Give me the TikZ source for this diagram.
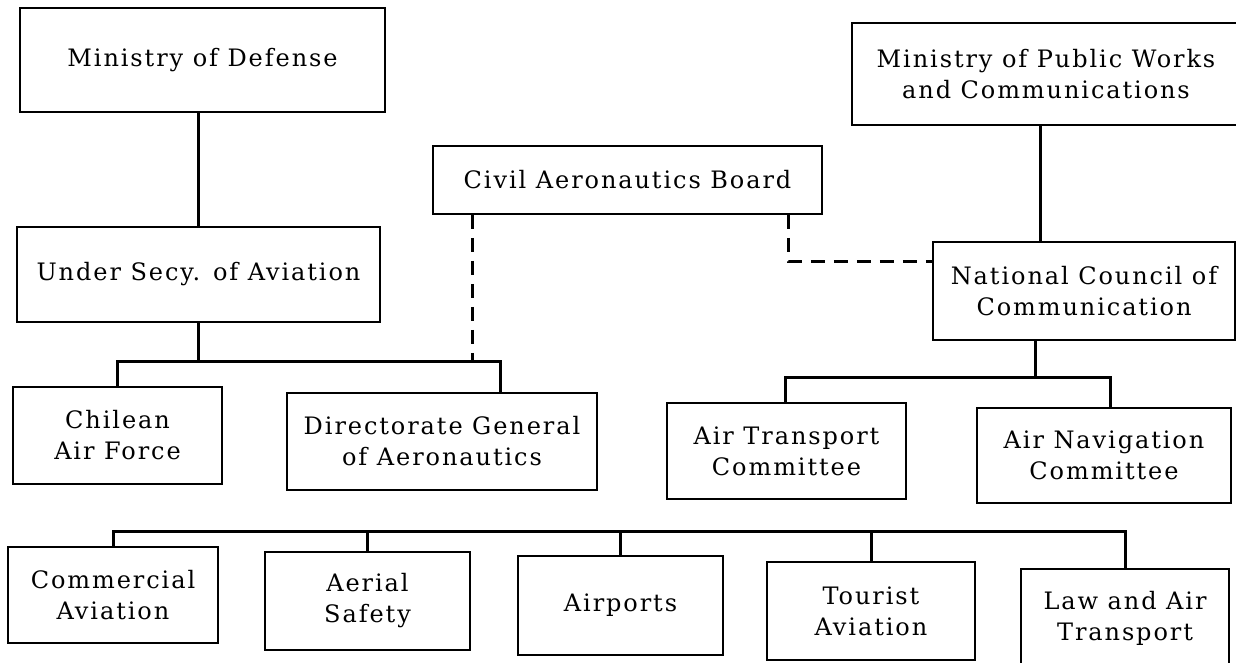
\documentclass[tikz,border=0pt]{standalone}
\usepackage{fontspec}
\setmainfont{DejaVu Serif}[LetterSpace=8]
\begin{document}
\begin{tikzpicture}[x=1pt,y=-1pt,
  box/.style={draw,line width=1.6pt,align=center,inner sep=0pt,font=\fontsize{24}{31}\selectfont},
  conn/.style={line width=3pt},
  dconn/.style={line width=3pt,dash pattern=on 14pt off 9pt}]
\useasboundingbox (0,0) rectangle (1236,662);
% boxes
\node[box,minimum width=365pt,minimum height=104pt] (mod) at (202.5,60) {Ministry of Defense};
\node[box,minimum width=363pt,minimum height=95pt] (usa) at (198.5,274.5) {Under Secy. of Aviation};
\node[box,minimum width=389pt,minimum height=68pt] (cab) at (627.5,180) {Civil Aeronautics Board};
\node[box,minimum width=388pt,minimum height=102pt] (mpw) at (1046,74) {Ministry of Public Works\\and Communications};
\node[box,minimum width=302pt,minimum height=98pt] (ncc) at (1084,291) {National Council of\\Communication};
\node[box,minimum width=209pt,minimum height=97pt] (chi) at (117.5,435.5) {Chilean\\Air Force};
\node[box,minimum width=310pt,minimum height=97pt] (dga) at (442,441.5) {Directorate General\\of Aeronautics};
\node[box,minimum width=239pt,minimum height=96pt] (atc) at (786.5,451) {Air Transport\\Committee};
\node[box,minimum width=254pt,minimum height=95pt] (anc) at (1104,455.5) {Air Navigation\\Committee};
\node[box,minimum width=210pt,minimum height=96pt] (com) at (113,595) {Commercial\\Aviation};
\node[box,minimum width=205pt,minimum height=98pt] (saf) at (367.5,601) {Aerial\\Safety};
\node[box,minimum width=205pt,minimum height=99pt] (apt) at (620.5,605.5) {Airports};
\node[box,minimum width=208pt,minimum height=98pt] (tou) at (871,611) {Tourist\\Aviation};
\node[box,minimum width=208pt,minimum height=98pt] (law) at (1125,618) {Law and Air\\Transport};
% coordinates
\coordinate (b1L) at (117,361);
\coordinate (b1R) at (500,361);
\coordinate (d1) at (472,361);
\coordinate (d2) at (788,261);
\coordinate (m2) at (1040,0);
\coordinate (n2) at (1035,377);
\coordinate (b2L) at (785,377);
\coordinate (b2R) at (1110,377);
\coordinate (b3L) at (113,531);
\coordinate (b3R) at (1125,531);
% connectors
\draw[conn] (usa.north) -- (usa.north |- mod.south);
\draw[conn] (usa.south) -- (usa.south |- b1L);
\draw[conn] (chi.north) -- (chi.north |- b1L) -- (b1R) -- (b1R |- dga.north);
\draw[dconn] (d1 |- cab.south) -- (d1);
\draw[dconn] (d2 |- cab.south) -- (d2) -- (d2 -| ncc.west);
\draw[conn] (m2 |- mpw.south) -- (m2 |- ncc.north);
\draw[conn] (n2 |- ncc.south) -- (n2);
\draw[conn] (b2L |- atc.north) -- (b2L) -- (b2R) -- (b2R |- anc.north);
\draw[conn] (b3L |- com.north) -- (b3L) -- (b3R) -- (b3R |- law.north);
\draw[conn] (saf.north) -- (saf.north |- b3L);
\draw[conn] (apt.north) -- (apt.north |- b3L);
\draw[conn] (tou.north) -- (tou.north |- b3L);
\end{tikzpicture}
\end{document}
